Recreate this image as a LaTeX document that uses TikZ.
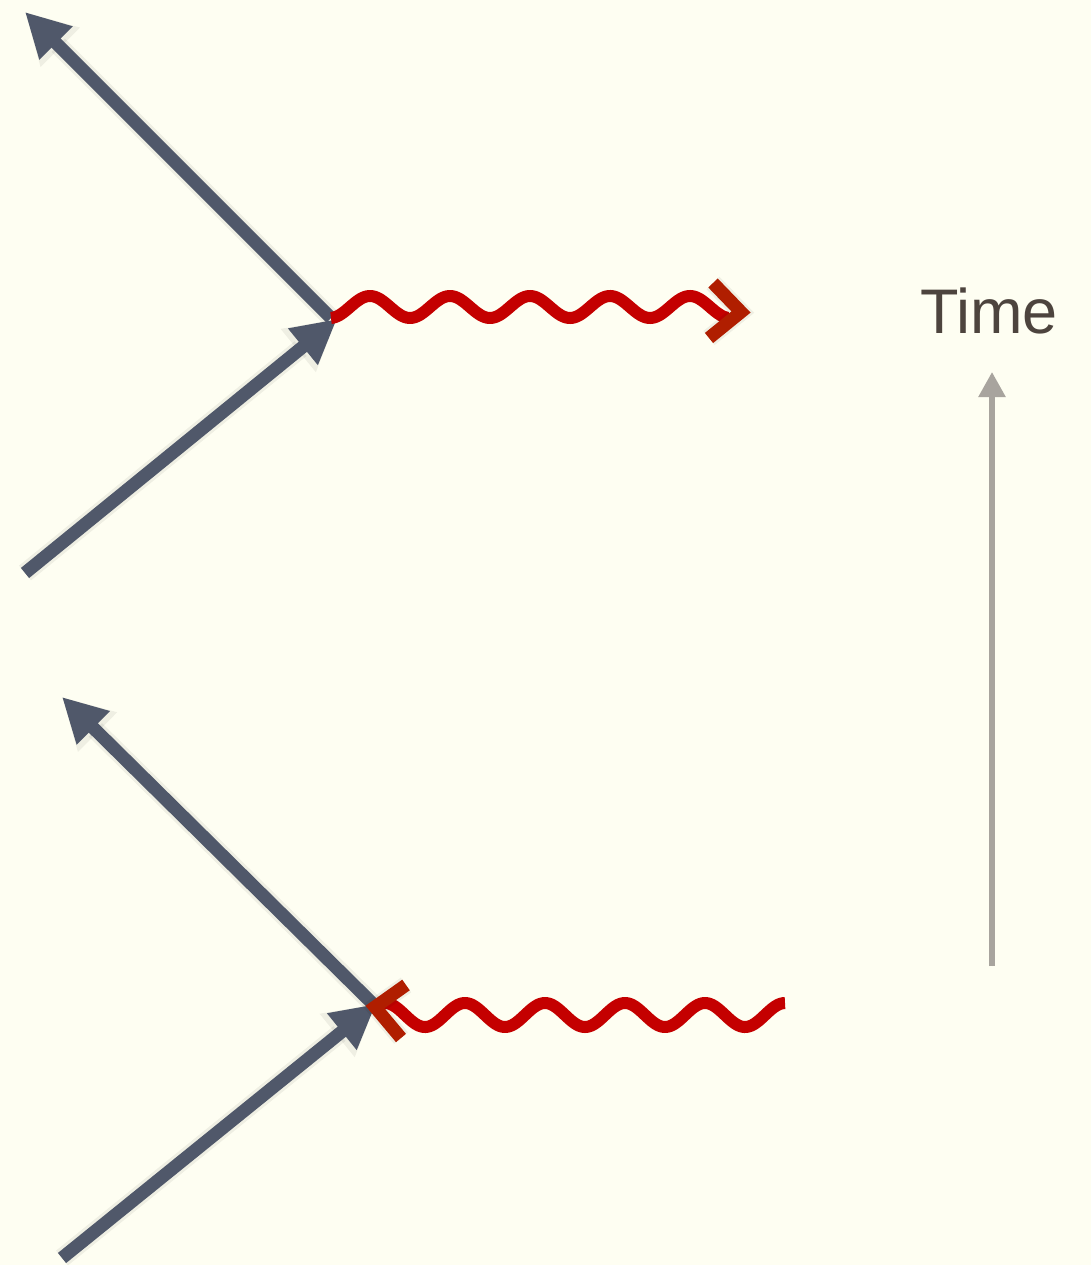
\documentclass[tikz,border=0pt]{standalone}
\usepackage{fontspec}
\setmainfont{Liberation Sans}
\usetikzlibrary{arrows.meta}
\definecolor{bgcream}{RGB}{254,254,242}
\definecolor{slate}{RGB}{80,88,106}
\definecolor{waved}{RGB}{196,0,0}
\definecolor{chev}{RGB}{176,30,0}
\definecolor{timetext}{RGB}{77,68,62}
\definecolor{timearrow}{RGB}{168,164,158}
\tikzset{
  fermion/.style={draw=slate, line width=13pt, -{Triangle[length=44pt,width=44pt]}, fill=slate},
  fshadow/.style={draw=black, fill=black, opacity=0.06, line width=19pt, -{Triangle[length=50pt,width=52pt]}, shift={(3,5)}},
  photon/.style={draw=waved, line width=12pt},
  chevron/.style={draw=chev, line width=13pt, line join=miter},
  cshadow/.style={draw=black, opacity=0.06, line width=18pt, shift={(3,5)}},
}
\begin{document}
\begin{tikzpicture}[x=1pt,y=-1pt]
\fill[bgcream] (0,0) rectangle (1091,1265);
\useasboundingbox (0,0) rectangle (1091,1265);
% top diagram
\coordinate (v1) at (331,318);
\coordinate (a1) at (25,12);
\coordinate (b1) at (25,573);
\coordinate (t1) at (337,319);
\draw[fshadow] (v1) -- (a1);
\draw[fshadow] (b1) -- (t1);
\draw[fermion] (v1) -- (a1);
\draw[fermion] (b1) -- (t1);
\draw[photon] plot[domain=331:728, samples=200, smooth] (\x,{307+11*cos((\x-330)*4.5)});
\coordinate (c1a) at (713,283);
\coordinate (c1t) at (741,312);
\coordinate (c1b) at (709,338);
\draw[cshadow] (c1a) -- (c1t) -- (c1b);
\draw[chevron] (c1a) -- (c1t) -- (c1b);
% bottom diagram
\coordinate (v2) at (372,1003);
\coordinate (a2) at (62,697);
\coordinate (b2) at (62,1258);
\coordinate (t2) at (376,1004);
\draw[fshadow] (v2) -- (a2);
\draw[fshadow] (b2) -- (t2);
\draw[fermion] (v2) -- (a2);
\draw[fermion] (b2) -- (t2);
\draw[photon] plot[domain=383:785, samples=200, smooth] (\x,{1015+12*cos((\x-425)*4.5)});
\coordinate (c2a) at (406,985);
\coordinate (c2t) at (375,1007);
\coordinate (c2b) at (401,1038);
\draw[cshadow] (c2a) -- (c2t) -- (c2b);
\draw[chevron] (c2a) -- (c2t) -- (c2b);
% time arrow
\coordinate (tb) at (992,966);
\coordinate (tt) at (992,372);
\draw[draw=timearrow, fill=timearrow, line width=5.5pt, -{Triangle[length=25pt,width=26pt]}] (tb) -- (tt);
\node[text=timetext, font=\fontsize{63}{70}\selectfont, inner sep=0pt, anchor=base] (time) at (989,333) {Time};
\end{tikzpicture}
\end{document}
